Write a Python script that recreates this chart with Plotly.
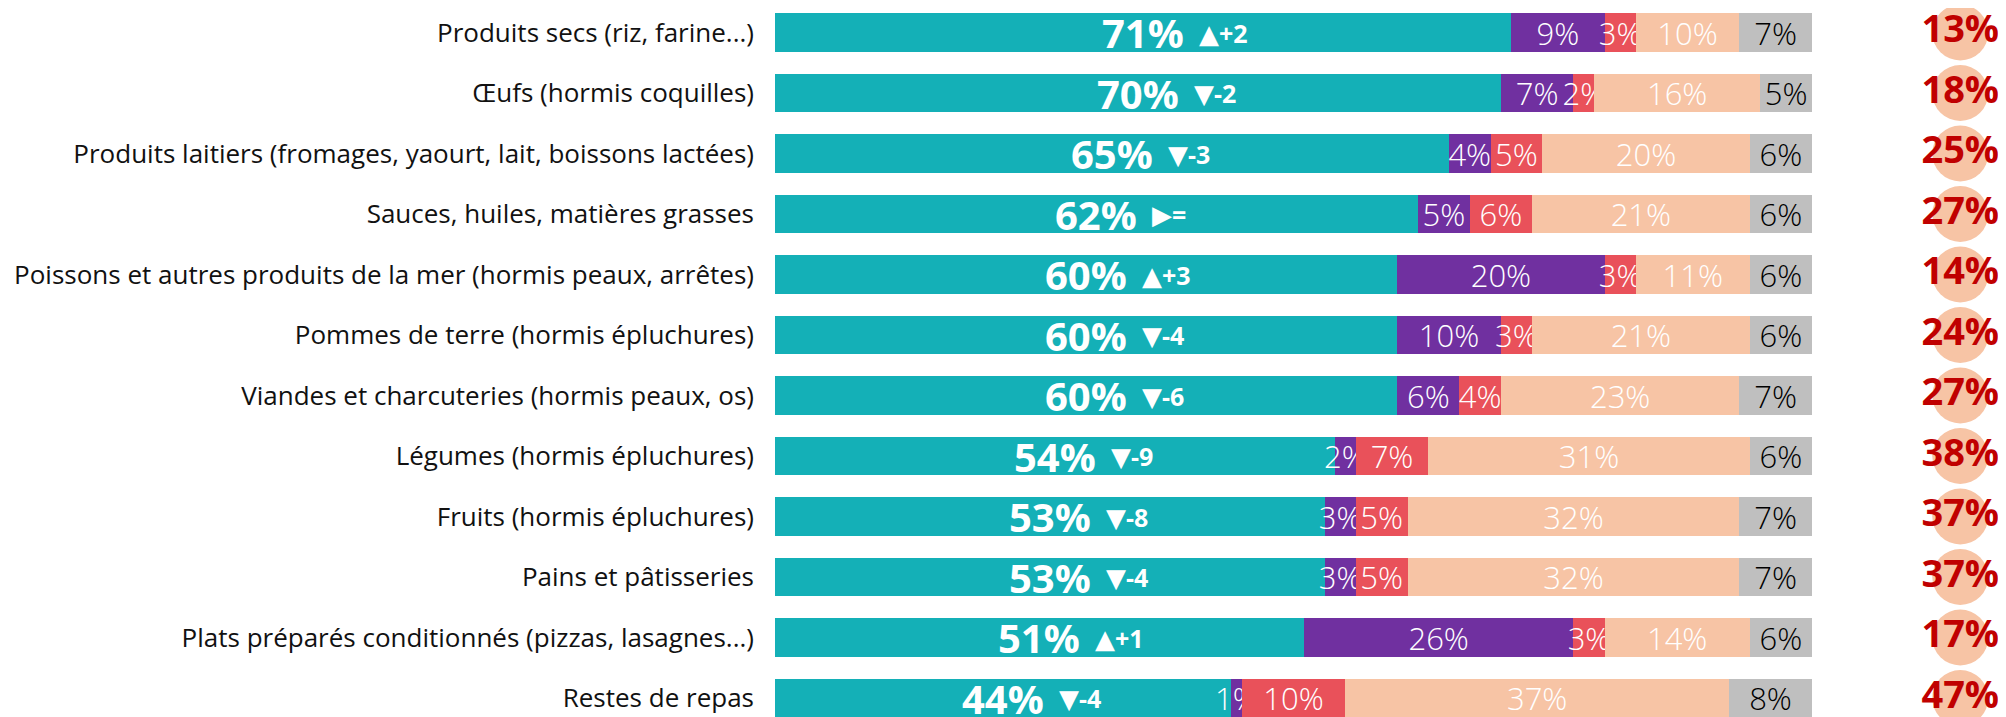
import plotly.graph_objects as go

# Categories (top to bottom)
categories = [
    "Produits secs (riz, farine...)",
    "Œufs (hormis coquilles)",
    "Produits laitiers (fromages, yaourt, lait, boissons lactées)",
    "Sauces, huiles, matières grasses",
    "Poissons et autres produits de la mer (hormis peaux, arrêtes)",
    "Pommes de terre (hormis épluchures)",
    "Viandes et charcuteries (hormis peaux, os)",
    "Légumes (hormis épluchures)",
    "Fruits (hormis épluchures)",
    "Pains et pâtisseries",
    "Plats préparés conditionnés (pizzas, lasagnes...)",
    "Restes de repas",
]

teal = [71, 70, 65, 62, 60, 60, 60, 54, 53, 53, 51, 44]
purple = [9, 7, 4, 5, 20, 10, 6, 2, 3, 3, 26, 1]
red = [3, 2, 5, 6, 3, 3, 4, 7, 5, 5, 3, 10]
peach = [10, 16, 20, 21, 11, 21, 23, 31, 32, 32, 14, 37]
gray = [7, 5, 6, 6, 6, 6, 7, 6, 7, 7, 6, 8]
arrows = ["▲", "▼", "▼", "▶", "▲", "▼", "▼", "▼", "▼", "▼", "▲", "▼"]
changes = ["+2", "-2", "-3", "=", "+3", "-4", "-6", "-9", "-8", "-4", "+1", "-4"]
totals = [13, 18, 25, 27, 14, 24, 27, 38, 37, 37, 17, 47]

TEAL = "#14B0B7"
PURPLE = "#7030A0"
RED = "#E9515A"
PEACH = "#F7C4A5"
GRAY = "#BFBFBF"
DARKRED = "#C00000"
FONT = "Open Sans"

ypos = list(range(len(categories)))

fig = go.Figure()

segments = [
    (teal, TEAL, False, "white"),
    (purple, PURPLE, True, "white"),
    (red, RED, True, "white"),
    (peach, PEACH, True, "white"),
    (gray, GRAY, True, "black"),
]
for vals, color, lab, tcolor in segments:
    fig.add_trace(go.Bar(
        x=vals, y=ypos, orientation="h",
        marker=dict(color=color, line=dict(width=0)),
        text=[f"{v}%" for v in vals] if lab else None,
        textposition="inside" if lab else "none",
        insidetextanchor="middle",
        constraintext="none",
        textangle=0,
        textfont=dict(family=FONT, size=31, color=tcolor, weight=300),
        showlegend=False,
        hoverinfo="skip",
    ))

# main percentage (bold) centred on the teal segment, change indicator after it
for i, v in enumerate(teal):
    fig.add_annotation(
        x=v / 2, y=i, text=f"<b>{v}%</b>", showarrow=False,
        font=dict(family=FONT, size=40, color="white"),
        xanchor="center", yanchor="middle",
    )
    fig.add_annotation(
        x=v / 2, y=i,
        text=f"<span style='font-family:DejaVu Sans;font-size:26px'>{arrows[i]}</span><b>{changes[i]}</b>",
        showarrow=False,
        font=dict(family=FONT, size=25, color="white"),
        xanchor="left", yanchor="middle", xshift=54,
    )

# right column: circle + total
fig.add_trace(go.Scatter(
    x=[114.3] * len(totals), y=ypos, mode="markers+text",
    marker=dict(size=56, color=PEACH, line=dict(width=0)),
    text=[f"<b>{t}%</b>" for t in totals],
    textposition="middle center",
    textfont=dict(family=FONT, size=38, color=DARKRED),
    showlegend=False, hoverinfo="skip", cliponaxis=False,
))

# page body has an 8px margin, so the figure is 8px smaller each way
fig.update_layout(
    barmode="stack",
    bargap=0.37,
    width=1998, height=709,
    margin=dict(l=767, r=0, t=0, b=0),
    paper_bgcolor="white",
    plot_bgcolor="white",
    font=dict(family=FONT),
    xaxis=dict(range=[0, 118.71], visible=False, fixedrange=True),
    yaxis=dict(
        range=[11.314, -0.405],
        tickvals=ypos, ticktext=categories,
        tickfont=dict(family=FONT, size=26, color="#111111"),
        showgrid=False, zeroline=False, showline=False, ticks="",
        ticklabelstandoff=20, automargin=False,
    ),
)

fig.write_html("out.html")
